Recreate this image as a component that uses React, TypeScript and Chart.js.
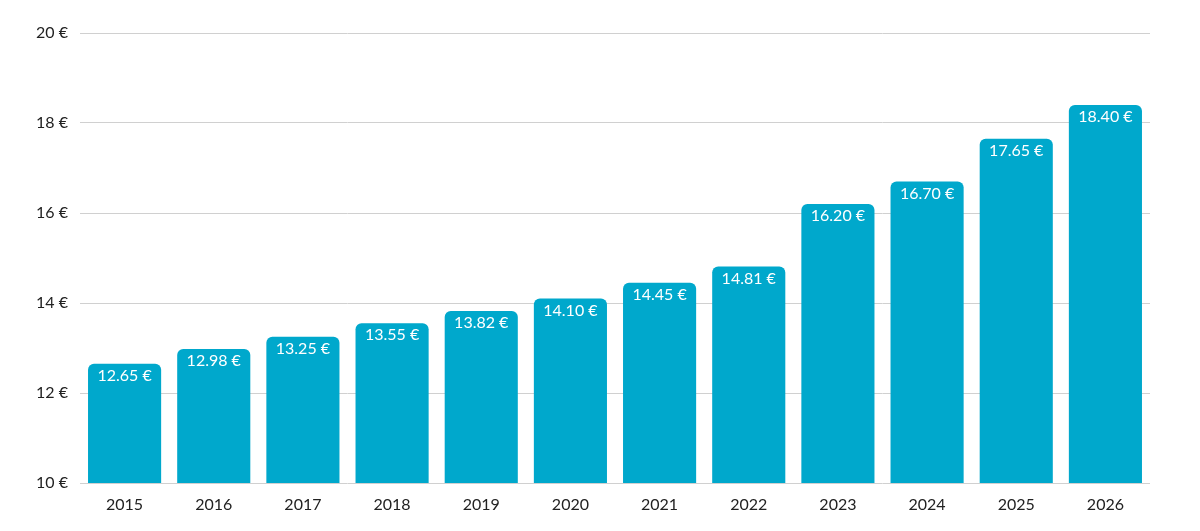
import React, { useEffect, useRef } from "react";
import { Chart, registerables } from "chart.js";
Chart.register(...registerables);

const categories = ["2015","2016","2017","2018","2019","2020","2021","2022","2023","2024","2025","2026"];
const prices = [12.65,12.98,13.25,13.55,13.82,14.10,14.45,14.81,16.20,16.70,17.65,18.40];
const yTicks = [10,12,14,16,18,20];
const fmt = (v: number) => v.toFixed(2) + " €";

const labelPlugin = {
  id: "barLabels",
  afterDatasetsDraw(chart: any) {
    const ctx = chart.ctx;
    const meta = chart.getDatasetMeta(0);
    ctx.save();
    ctx.fillStyle = "#ffffff";
    ctx.font = "16px Lato, 'Open Sans', sans-serif";
    ctx.textAlign = "center";
    ctx.textBaseline = "middle";
    meta.data.forEach((bar: any, i: number) => {
      ctx.fillText(fmt(prices[i]), bar.x, bar.y + 12);
    });
    ctx.restore();
  },
};

export default function App() {
  const ref = useRef<HTMLCanvasElement>(null);
  useEffect(() => {
    document.body.style.margin = "0";
    const chart = new Chart(ref.current!, {
      type: "bar",
      data: {
        labels: categories,
        datasets: [{
          data: prices,
          backgroundColor: "#00a8cc",
          borderRadius: { topLeft: 6, topRight: 6, bottomLeft: 0, bottomRight: 0 },
          borderSkipped: "bottom",
          categoryPercentage: 0.82,
          barPercentage: 1,
        }],
      },
      options: {
        animation: false,
        responsive: false,
        layout: { padding: { left: 0, right: 50, top: 33, bottom: 0 } },
        plugins: { legend: { display: false }, tooltip: { enabled: false } },
        scales: {
          x: {
            grid: { display: false },
            border: { display: false },
            ticks: { color: "#222", font: { size: 16, family: "Lato, 'Open Sans', sans-serif" }, padding: 4 },
            afterFit: (s: any) => { s.height = 48; },
          },
          y: {
            min: 10, max: 20,
            afterBuildTicks: (s: any) => { s.ticks = yTicks.map((v) => ({ value: v })); },
            grid: { color: "#d0d0d0", drawTicks: false },
            border: { display: false },
            ticks: { color: "#222", font: { size: 16, family: "Lato, 'Open Sans', sans-serif" }, padding: 12, callback: (v: any) => v + " €" },
            afterFit: (s: any) => { s.width = 80; },
          },
        },
      },
      plugins: [labelPlugin],
    });
    return () => chart.destroy();
  }, []);
  return <canvas ref={ref} width={1200} height={531} style={{ display: "block" }} />;
}
